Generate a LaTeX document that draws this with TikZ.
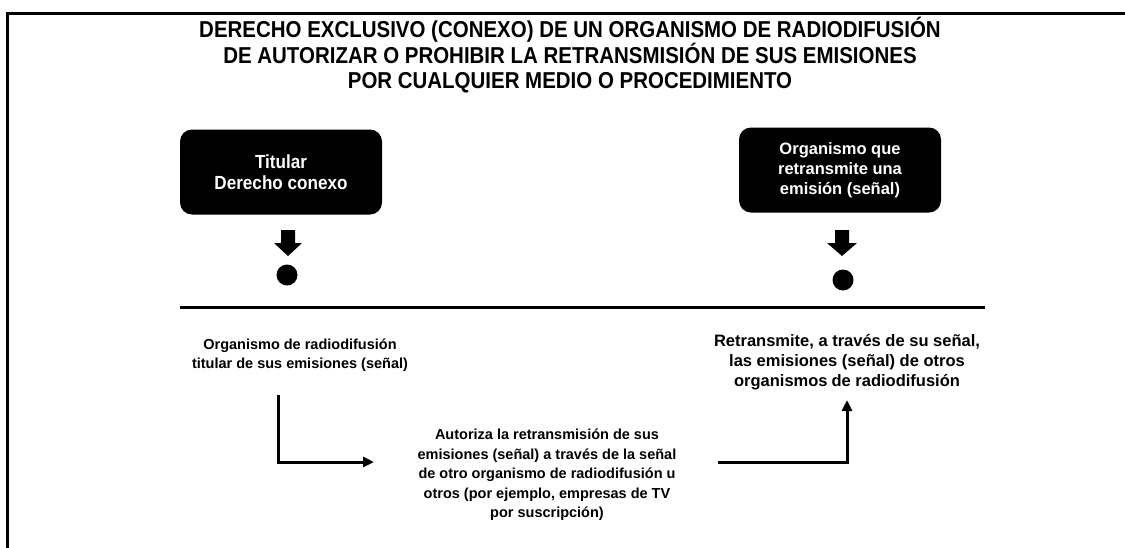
\documentclass[tikz,border=0pt]{standalone}
\usepackage{fontspec}
\setmainfont{Liberation Sans}
\newfontfamily\titlefont[FakeStretch=0.89]{Liberation Sans}
\newfontfamily\narrowfont[FakeStretch=0.9]{Liberation Sans}
\usetikzlibrary{arrows.meta}

\tikzset{
  frameline/.style={line width=3pt},
  blackbox/.style={fill=black, rounded corners=12pt, text=white, align=center,
    minimum width=202pt, minimum height=85pt,
    font=\fontsize{16.5}{20}\selectfont\bfseries},
  bodytext/.style={align=center, font=\fontsize{14.5}{19.5}\selectfont\bfseries},
  dot/.style={circle, fill=black, minimum size=21pt, inner sep=0pt},
  conn/.style={line width=3pt, -{Triangle[length=11pt,width=10pt]}},
}
\newcommand{\wsp}{\hspace{4pt}}

\begin{document}
\begin{tikzpicture}[x=1pt,y=-1pt]
  \useasboundingbox (0,0) rectangle (1125,547);
  \fill[white] (0,0) rectangle (1125,547);
  % open frame, top and left side only
  \draw[frameline] (7,549) -- (7,13) -- (1127,13);

  % title
  \node[align=center, font=\titlefont\fontsize{23}{25}\selectfont\bfseries] (title) at (570,55)
    {DERECHO EXCLUSIVO (CONEXO) DE UN ORGANISMO DE RADIODIFUSI\'ON\\
     DE AUTORIZAR O PROHIBIR LA RETRANSMISI\'ON DE SUS EMISIONES\\
     POR CUALQUIER MEDIO O PROCEDIMIENTO};

  % the two parties
  \node[blackbox, font=\narrowfont\fontsize{19}{21}\selectfont\bfseries] (holder) at (281,172)
    {Titular\\Derecho conexo};
  \node[blackbox] (rebroad) at (840,170) {Organismo que\\retransmite una\\emisi\'on (se\~nal)};

  % block arrows and dots
  \fill (281,230) rectangle (295,243) -- (302,243) -- (288,256) -- (274,243) -- cycle;
  \fill (835,230) rectangle (849,243) -- (857,243) -- (842,256) -- (827,243) -- cycle;
  \node[dot] (dotL) at (287,275) {};
  \node[dot] (dotR) at (843,280) {};

  % separator
  \draw[frameline] (180,307) -- (985,307);

  % lower texts
  \node[bodytext] (owner) at (300,355)
    {Organismo\wsp de radiodifusi\'on\\titular de sus emisiones (se\~nal)};
  \node[bodytext] (authorize) at (547,475)
    {Autoriza la retransmisi\'on\wsp de sus\\
     emisiones (se\~nal) a trav\'es de la se\~nal\\
     de otro organismo\wsp de radiodifusi\'on\wsp u\\
     otros (por ejemplo, empresas de TV\\
     por suscripci\'on)};
  \node[bodytext, font=\fontsize{16.5}{20}\selectfont\bfseries] (rebroadcasts) at (847,362)
    {Retransmite, a trav\'es de su se\~nal,\\
     las emisiones (se\~nal) de otros\\
     organismos\wsp de radiodifusi\'on};

  % connectors
  \coordinate (startL) at (278,395);
  \coordinate (endL) at (374,462);
  \coordinate (startR) at (718,462);
  \coordinate (endR) at (847,400);
  \draw[conn] (startL) |- (endL);
  \draw[conn] (startR) -| (endR);
\end{tikzpicture}
\end{document}
